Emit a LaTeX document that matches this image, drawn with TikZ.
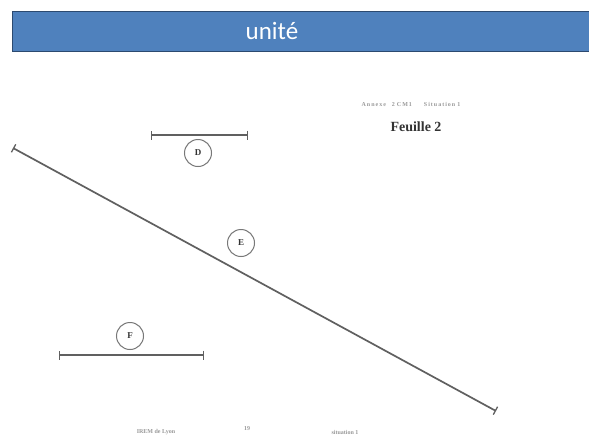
\documentclass[tikz,border=0pt]{standalone}
\usepackage{fontspec}
\setmainfont{Liberation Serif}
\newfontfamily\hdrfont{Carlito}
\usetikzlibrary{arrows.meta}
\definecolor{hdrblue}{HTML}{4F81BD}
\definecolor{hdrline}{HTML}{2C4A70}
\definecolor{segcol}{HTML}{606060}
\begin{document}
\begin{tikzpicture}[x=1pt,y=-1pt,
  seg/.style={draw=segcol,line width=1.7pt,{Bar[width=9pt,line width=1.3pt]}-{Bar[width=9pt,line width=1.3pt]}},
  lbl/.style={circle,draw=segcol!85,line width=1pt,minimum size=27pt,inner sep=0pt,font=\bfseries\fontsize{9}{9}\selectfont,text=black!80},
  faint/.style={text=black!40,font=\bfseries\fontsize{6}{6}\selectfont,inner sep=0.5pt},
]
\useasboundingbox (0,0) rectangle (589,437);
\fill[white] (0,0) rectangle (589,437);
\begin{scope}
\clip (0,0) rectangle (589,437);
% header
\node[draw=hdrline,line width=1.5pt,fill=hdrblue,minimum width=590pt,minimum height=40pt,anchor=north west,inner sep=0pt] (hdr) at (11.5,10.5) {};
\node[text=white,font=\hdrfont\fontsize{25}{25}\selectfont] (title) at (272,31) {unité};
% page texts
\node[faint] (annexe) at (411,104) {A\,n\,n\,e\,x\,e\quad 2\,\,C\,M\,1\qquad S\,i\,t\,u\,a\,t\,i\,o\,n\,\,1};
\node[text=black!80,font=\bfseries\fontsize{14}{14}\selectfont] (feuille) at (416,127) {Feuille 2};
\node[faint] (irem) at (156,432) {IREM de Lyon};
\node[faint] (page) at (247,429) {19};
\node[faint] (sit) at (345,432) {situation 1};
% segments
\coordinate (d1) at (151,135);
\coordinate (d2) at (248,135);
\draw[seg] (d1) -- (d2);
\coordinate (e1) at (13,148);
\coordinate (e2) at (496,411);
\draw[seg] (e1) -- (e2);
\coordinate (f1) at (59,355);
\coordinate (f2) at (204,355);
\draw[seg] (f1) -- (f2);
% labels
\node[lbl] (D) at (198,153) {D};
\node[lbl] (E) at (241,243) {E};
\node[lbl] (F) at (130,336) {F};
\end{scope}
\end{tikzpicture}
\end{document}
